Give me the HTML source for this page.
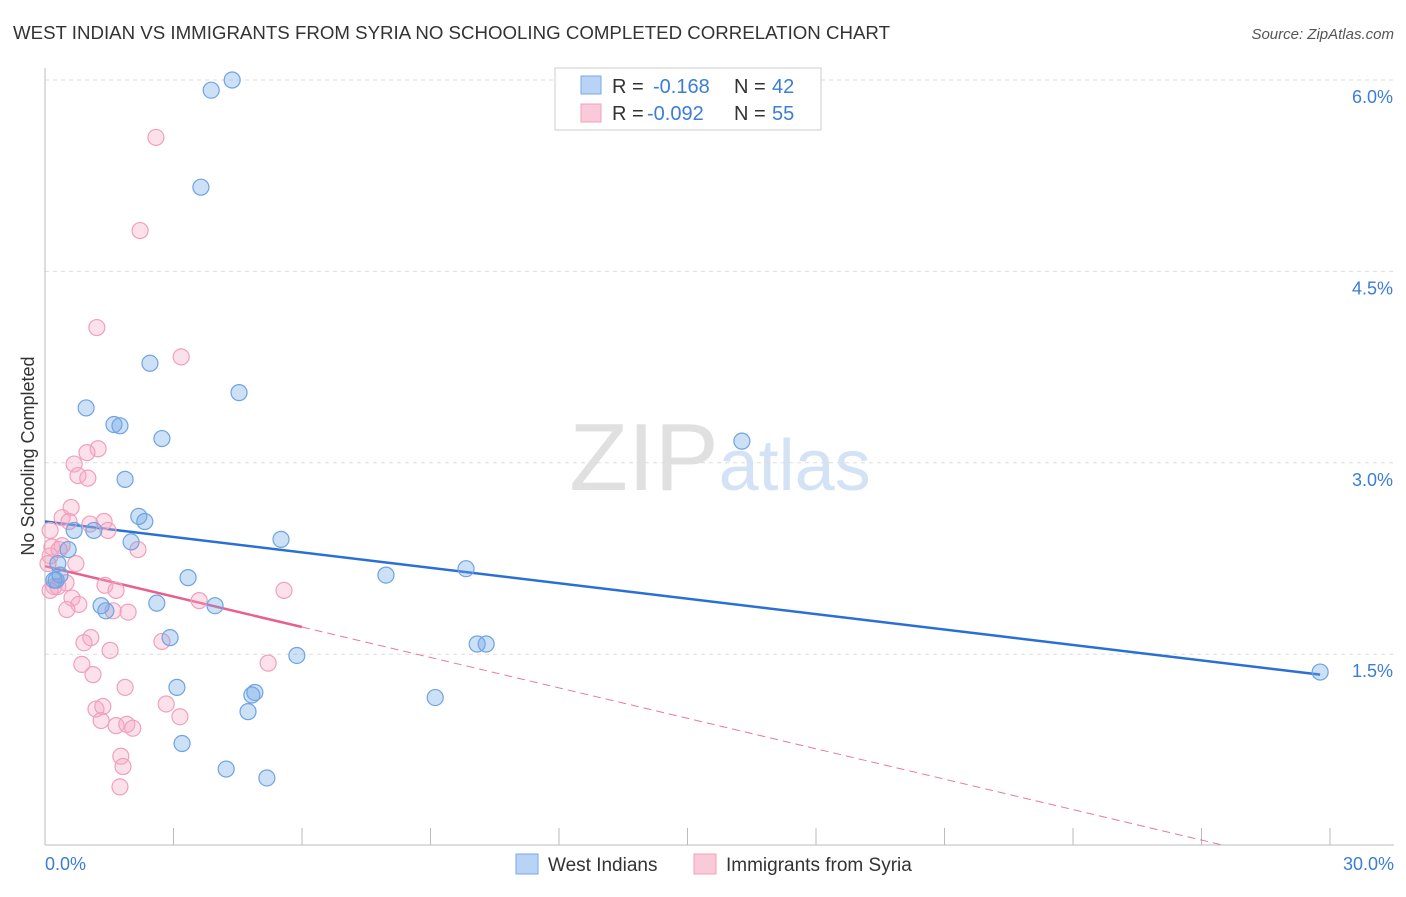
<!DOCTYPE html>
<html><head><meta charset="utf-8">
<style>
body{margin:0;background:#fff;font-family:"Liberation Sans",sans-serif;}
svg text{font-family:"Liberation Sans",sans-serif;}
</style></head>
<body>
<svg id="chart" width="1406" height="892" xmlns="http://www.w3.org/2000/svg">
<text x="13" y="39" font-size="18" fill="#333" textLength="877" lengthAdjust="spacingAndGlyphs">WEST INDIAN VS IMMIGRANTS FROM SYRIA NO SCHOOLING COMPLETED CORRELATION CHART</text>
<text x="1394" y="39" font-size="15" fill="#555" text-anchor="end" font-style="italic">Source: ZipAtlas.com</text>
<text x="720" y="490" font-size="96" text-anchor="middle" fill="#e2e2e2" font-family="Liberation Serif"><tspan fill="#e0e0e0">ZIP</tspan><tspan fill="#d3e3f5" font-family="Liberation Sans" font-size="72">atlas</tspan></text>
<text transform="translate(34,456) rotate(-90)" font-size="18" fill="#333" text-anchor="middle">No Schooling Completed</text>
<g id="grid"></g><g id="axes"></g><g id="trends"></g><g id="pts"></g>
<g>
<rect x="555" y="68" width="266" height="62" fill="#fff" stroke="#ccc"/>
<rect x="581" y="76" width="20" height="18" fill="#b8d3f5" stroke="#7aa9e6"/>
<rect x="581" y="104" width="20" height="18" fill="#fbcad9" stroke="#f0a0bc"/>
<text x="612" y="93" font-size="20" fill="#333">R =</text><text x="653" y="93" font-size="20" fill="#3b7dd8">-0.168</text>
<text x="734" y="93" font-size="20" fill="#333">N =</text><text x="772" y="93" font-size="20" fill="#3b7dd8">42</text>
<text x="612" y="120" font-size="20" fill="#333">R =</text><text x="647" y="120" font-size="20" fill="#3b7dd8">-0.092</text>
<text x="734" y="120" font-size="20" fill="#333">N =</text><text x="772" y="120" font-size="20" fill="#3b7dd8">55</text>
</g>
<g>
<rect x="516" y="854" width="22" height="20" fill="#b8d3f5" stroke="#7aa9e6"/>
<text x="548" y="871" font-size="19" fill="#333">West Indians</text>
<rect x="694" y="854" width="22" height="20" fill="#fbcad9" stroke="#f0a0bc"/>
<text x="726" y="871" font-size="19" fill="#333">Immigrants from Syria</text>
</g>
</svg>
<script>
const yTicks=[1.5,3.0,4.5,6.0];
const yTickLabels=["1.5%","3.0%","4.5%","6.0%"];
const xTickCount=10;
const xLabels=["0.0%","30.0%"];
const blueX=[3.88,4.37,3.64,2.45,4.53,0.96,1.61,1.75,2.73,16.27,1.87,2.19,2.33,0.68,1.14,2.01,5.51,0.54,0.30,0.35,0.21,3.34,7.96,9.83,2.61,1.31,1.42,3.97,2.92,10.09,10.30,5.88,3.08,4.90,4.83,9.11,4.74,3.20,4.23,5.18,29.77,0.26];
const blueY=[5.92,6.00,5.16,3.78,3.55,3.43,3.30,3.29,3.19,3.17,2.87,2.58,2.54,2.47,2.47,2.38,2.40,2.32,2.21,2.12,2.08,2.10,2.12,2.17,1.90,1.88,1.84,1.88,1.63,1.58,1.58,1.49,1.24,1.20,1.18,1.16,1.05,0.80,0.60,0.53,1.36,2.08];
const pinkX=[2.59,2.22,1.21,3.18,1.24,0.98,0.68,0.77,1.00,0.61,0.40,0.56,1.05,1.38,1.47,0.12,0.16,0.40,0.33,2.17,0.12,0.72,0.49,0.21,0.30,1.40,1.66,0.63,0.79,3.60,0.51,1.59,1.94,5.58,1.07,2.73,0.91,1.52,0.86,5.21,1.12,1.87,2.83,1.19,1.35,3.15,1.31,1.66,1.91,2.05,1.77,1.82,1.75,0.12,0.07];
const pinkY=[5.55,4.82,4.06,3.83,3.11,3.08,2.99,2.90,2.88,2.65,2.57,2.54,2.52,2.54,2.47,2.47,2.34,2.35,2.32,2.32,2.27,2.21,2.06,2.03,2.03,2.04,2.00,1.94,1.89,1.92,1.85,1.84,1.83,2.00,1.63,1.60,1.59,1.53,1.42,1.43,1.34,1.24,1.11,1.07,1.09,1.01,0.98,0.94,0.95,0.92,0.70,0.62,0.46,2.00,2.21];
const blueTrend=[2.54,1.34];   // y at x=0, x=29.77
const pinkTrend=[2.19,-0.0795]; // intercept, slope
const NS="http://www.w3.org/2000/svg";
const X=v=>45+v*1285/30, Y=v=>80+(6-v)*127.6;
function mk(tag,attrs,parent){const e=document.createElementNS(NS,tag);for(const k in attrs)e.setAttribute(k,attrs[k]);document.getElementById(parent).appendChild(e);return e;}
yTicks.forEach((t,i)=>{
 const l=mk('line',{x1:45,x2:1394,y1:Y(t),y2:Y(t),stroke:'#ddd','stroke-dasharray':'4,4'},'grid');
 
 
 const tx=mk('text',{x:1393,y:Y(t)+23,'font-size':18,fill:'#3b7dd8','text-anchor':'end'},'grid');tx.textContent=yTickLabels[i];
 
 
});
mk('line',{x1:45,x2:45,y1:68,y2:845,stroke:'#bbb'},'axes');
mk('line',{x1:45,x2:1394,y1:845,y2:845,stroke:'#bbb'},'axes');
for(let i=0;i<=xTickCount;i++){const t=mk('line',{x1:X(i*3),x2:X(i*3),y1:828,y2:845,stroke:'#bbb'},'axes');
 
 }
[[0,'start',45],[30,'end',1394]].forEach((a,i)=>{const t=mk('text',{x:a[2],y:870,'font-size':18,fill:'#3b7dd8','text-anchor':a[1]},'axes');t.textContent=xLabels[i];
 
 });
function dots(xs,ys,fill,stroke,name){xs.forEach((x,i)=>{const c=mk('circle',{cx:X(x),cy:Y(ys[i]),r:8,fill:fill,stroke:stroke,'stroke-width':1.2},'pts');
 
 });}
dots(pinkX,pinkY,'rgba(245,170,195,0.35)','#f0a0bc','syria-point');
dots(blueX,blueY,'rgba(110,165,230,0.35)','#6fa3e3','west-indian-point');
let bl=mk('line',{x1:X(0),y1:Y(blueTrend[0]),x2:X(29.77),y2:Y(blueTrend[1]),stroke:'#2a6fd6','stroke-width':2.5},'trends');


const pe=-pinkTrend[0]/pinkTrend[1];
let pd=mk('line',{x1:X(6),y1:Y(pinkTrend[0]+6*pinkTrend[1]),x2:X(pe),y2:Y(0),stroke:'#e8799e','stroke-width':1,'stroke-dasharray':'8,5'},'trends');


let ps=mk('line',{x1:X(0),y1:Y(pinkTrend[0]),x2:X(6),y2:Y(pinkTrend[0]+6*pinkTrend[1]),stroke:'#e8608e','stroke-width':2.5},'trends');


</script>
</body></html>
